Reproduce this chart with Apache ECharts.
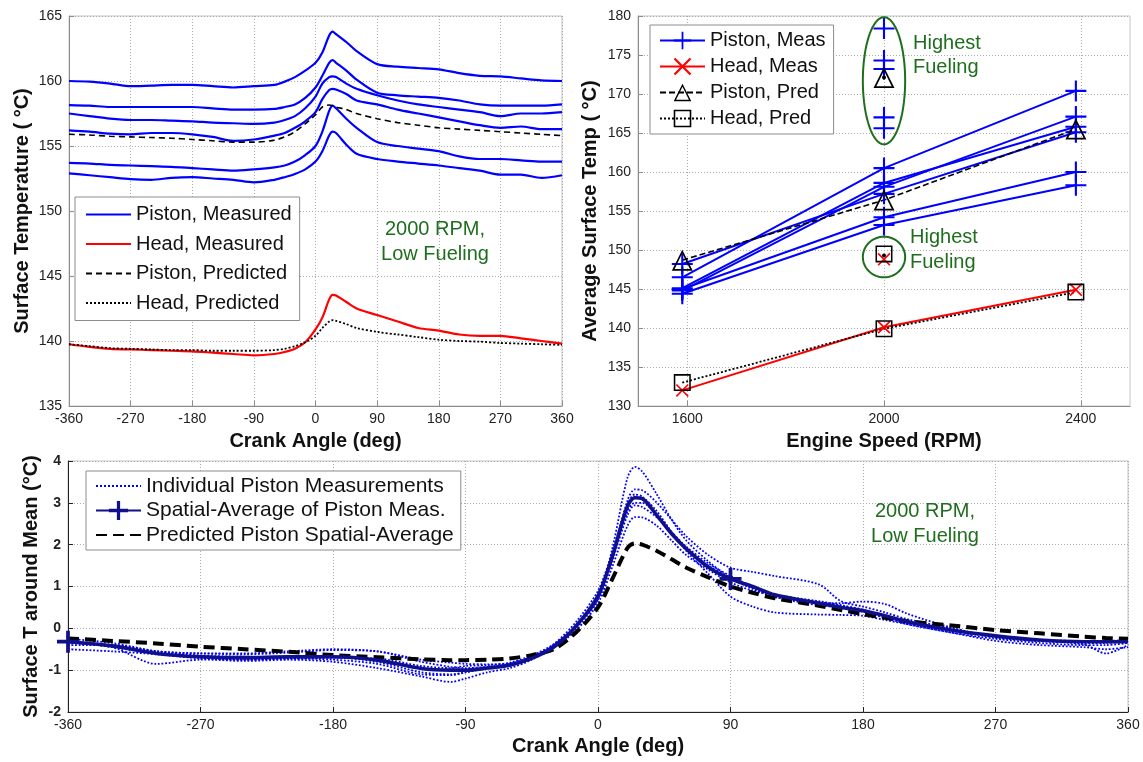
<!DOCTYPE html>
<html><head><meta charset="utf-8">
<script src="https://cdn.jsdelivr.net/npm/echarts@6/dist/echarts.min.js"></script>
<style>html,body{margin:0;padding:0;background:#fff}#c{width:1143px;height:762px}</style>
</head><body><div id="c"></div>
<script>
// ---------- Top-left: temperature vs crank angle ----------
const angTL = [-360,-330,-300,-270,-240,-210,-180,-150,-120,-90,-60,-45,-30,-15,0,10,20,25,30,45,60,90,120,150,180,210,240,270,300,330,360];
const pistonMeas1 = [160.0,159.95,159.8,159.6,159.65,159.7,159.7,159.6,159.5,159.6,159.7,159.95,160.3,160.8,161.4,162.2,163.5,163.8,163.6,163.0,162.3,161.3,161.1,161.0,160.9,160.6,160.4,160.35,160.2,160.05,160.0];
const pistonMeas2 = [158.15,158.1,158.0,158.0,158.0,158.0,158.0,157.9,157.8,157.8,157.85,158.0,158.2,158.7,159.5,160.4,161.4,161.6,161.4,160.8,160.1,159.1,158.9,158.8,158.7,158.5,158.2,158.1,158.1,158.1,158.2];
const pistonMeas3 = [157.5,157.3,157.1,157.0,157.0,156.95,156.9,156.8,156.75,156.7,156.8,157.0,157.3,157.9,158.8,159.8,160.3,160.35,160.3,159.8,159.4,158.9,158.5,158.2,158.0,157.8,157.6,157.3,157.5,157.5,157.6];
const pistonMeas4 = [156.2,156.1,155.95,155.9,156.0,156.0,155.9,155.7,155.4,155.5,155.8,156.0,156.4,156.9,157.6,158.6,159.3,159.4,159.35,159.0,158.5,158.2,157.8,157.5,157.2,156.9,156.6,156.4,156.5,156.3,156.3];
const pistonMeas5 = [153.7,153.65,153.55,153.5,153.45,153.4,153.3,153.2,153.1,153.2,153.35,153.5,153.8,154.3,155.0,156.1,157.7,158.1,157.9,157.1,156.4,155.3,155.0,154.8,154.6,154.2,154.0,154.0,153.9,153.8,153.8];
const pistonMeas6 = [152.9,152.75,152.6,152.45,152.4,152.55,152.6,152.5,152.4,152.2,152.4,152.6,152.85,153.2,153.8,154.6,155.8,156.1,156.0,155.1,154.4,154.0,153.8,153.65,153.5,153.3,153.1,152.8,152.8,152.55,152.75];
const pistonPredTL = [155.9,155.85,155.75,155.7,155.65,155.6,155.5,155.4,155.3,155.3,155.45,155.7,156.1,156.7,157.4,158.0,158.15,158.1,158.0,157.8,157.5,157.1,156.8,156.6,156.4,156.3,156.2,156.1,156.0,155.9,155.8];
const headMeasTL = [139.75,139.55,139.4,139.35,139.3,139.25,139.2,139.1,139.0,138.9,139.0,139.15,139.4,139.9,140.9,141.8,143.2,143.55,143.5,143.0,142.5,142.0,141.5,141.0,140.8,140.5,140.4,140.4,140.2,140.0,139.8];
const headPredTL = [139.75,139.6,139.45,139.4,139.35,139.3,139.3,139.25,139.25,139.25,139.3,139.4,139.6,139.9,140.4,141.0,141.5,141.6,141.55,141.3,141.0,140.7,140.5,140.3,140.1,140.0,139.95,139.85,139.8,139.75,139.7];

// ---------- Top-right: average temp vs engine speed ----------
const rpm = [1590, 2000, 2390];
const rpmTicks = [1600, 2000, 2400];
const pistonMeasAvg = [
  [146.5, 160.5, 170.4],
  [145.1, 158.6, 165.8],
  [144.8, 158.1, 167.1],
  [148.2, 157.2, 165.1],
  [145.0, 154.2, 160.0],
  [144.4, 153.2, 158.3]
];
const pistonPredAvg = [148.7, 156.4, 165.5];
const headMeasAvg = [132.0, 140.1, 144.9];
const headPredAvg = [133.0, 139.9, 144.6];
const hfRpm = 2000;
const hfPistonMeas = [178.4, 174.3, 173.2, 167.0, 165.6];
const hfPistonPred = [172.1];
const hfHeadMeas = [148.8];
const hfHeadPred = [149.5];
const hfDots = [172.1, 149.3];
// annotation ellipses (data centre, half-extent in data units)
const hfEllipses = [
  {rpm: 2000, temp: 171.7, halfRpm: 43, halfTemp: 8.15},
  {rpm: 2000, temp: 149.1, halfRpm: 43, halfTemp: 2.6}
];

// ---------- Bottom: deviation around mean ----------
const angB = [-360,-330,-300,-270,-240,-210,-180,-150,-120,-100,-90,-75,-60,-45,-30,-15,0,10,20,25,30,40,50,60,75,90,105,120,150,165,180,195,210,240,270,300,330,345,360];
const indiv1 = [-0.5,-0.55,-0.62,-0.72,-0.78,-0.75,-0.8,-0.95,-1.15,-1.28,-1.2,-1.05,-0.95,-0.75,-0.4,0.05,0.7,1.95,3.6,3.86,3.75,3.2,2.6,2.1,1.6,1.2,0.95,0.75,0.55,0.5,0.4,0.25,0.1,-0.1,-0.3,-0.4,-0.45,-0.5,-0.45];
const indiv2 = [-0.3,-0.4,-0.55,-0.6,-0.62,-0.58,-0.52,-0.55,-0.8,-0.92,-0.95,-0.92,-0.85,-0.68,-0.42,0.0,0.7,1.8,3.05,3.32,3.3,3.0,2.6,2.2,1.75,1.45,1.35,1.25,1.05,0.65,0.52,0.38,0.22,0.0,-0.2,-0.28,-0.3,-0.3,-0.3];
const indiv3 = [-0.25,-0.35,-0.55,-0.65,-0.68,-0.7,-0.7,-0.8,-1.05,-1.1,-1.05,-0.95,-0.85,-0.68,-0.4,0.05,0.75,1.7,2.8,3.0,3.0,2.7,2.3,1.9,1.5,1.2,0.95,0.75,0.6,0.55,0.45,0.3,0.15,-0.05,-0.2,-0.3,-0.3,-0.3,-0.28];
const indiv4 = [-0.35,-0.45,-0.85,-0.75,-0.75,-0.72,-0.7,-0.72,-0.9,-0.95,-0.9,-0.88,-0.82,-0.65,-0.38,0.05,0.7,1.65,2.7,2.94,2.9,2.65,2.3,1.95,1.55,1.25,1.0,0.8,0.62,0.6,0.64,0.58,0.35,0.02,-0.22,-0.3,-0.35,-0.35,-0.3];
const indiv5 = [-0.4,-0.4,-0.55,-0.6,-0.6,-0.55,-0.5,-0.55,-0.75,-0.82,-0.85,-0.86,-0.85,-0.72,-0.45,-0.05,0.6,1.5,2.45,2.66,2.65,2.45,2.1,1.75,1.4,1.1,0.9,0.8,0.65,0.55,0.4,0.3,0.15,-0.05,-0.2,-0.3,-0.38,-0.6,-0.4];
const indiv6 = [-0.3,-0.45,-0.6,-0.7,-0.75,-0.72,-0.75,-0.85,-1.1,-1.12,-1.05,-0.95,-0.88,-0.7,-0.38,0.15,0.9,1.85,2.95,3.2,3.15,2.8,2.3,1.85,1.3,0.76,0.52,0.38,0.33,0.32,0.3,0.2,0.1,-0.1,-0.25,-0.35,-0.4,-0.4,-0.35];
const spatialAvg = [-0.32,-0.42,-0.6,-0.68,-0.7,-0.68,-0.68,-0.76,-0.96,-1.0,-1.0,-0.95,-0.88,-0.72,-0.45,0.05,0.78,1.75,2.92,3.12,3.1,2.7,2.26,1.9,1.46,1.18,1.0,0.8,0.6,0.5,0.42,0.3,0.16,-0.04,-0.18,-0.28,-0.32,-0.32,-0.32];
const predAvg = [-0.24,-0.3,-0.36,-0.44,-0.5,-0.56,-0.64,-0.69,-0.74,-0.76,-0.76,-0.75,-0.72,-0.64,-0.5,-0.1,0.5,1.2,1.92,2.03,2.0,1.85,1.65,1.45,1.22,1.0,0.85,0.72,0.54,0.44,0.34,0.25,0.17,0.07,-0.04,-0.12,-0.2,-0.23,-0.25];
const avgMarkerAngles = [-360, 90];

// ---------- styling ----------
const FONT = "'Liberation Sans', Arial, Helvetica, sans-serif";
const GREEN = '#1e6e1e';
const BLUE = '#0000ff', RED = '#ff0000', NAVY = '#10108a';
const PLUS = 'path://M9,0H11V9H20V11H11V20H9V11H0V9H9Z';
const PLUS_THICK = 'path://M8.3,0H11.7V8.3H20V11.7H11.7V20H8.3V11.7H0V8.3H8.3Z';
const XMARK = 'path://M0,1.8L1.8,0L10,8.2L18.2,0L20,1.8L11.8,10L20,18.2L18.2,20L10,11.8L1.8,20L0,18.2L8.2,10Z';
const TRI = 'path://M10,0L20,18L0,18ZM10,3.2L2.7,16.5L17.3,16.5Z';
const SQR = 'path://M0,0H20V20H0ZM1.8,1.8V18.2H18.2V1.8Z';

const zip = (xs, ys) => xs.map((x, i) => [x, ys[i]]);

function axis(gridIndex, o) {
  return {
    gridIndex, type: 'value', min: o.min, max: o.max, interval: o.interval,
    name: o.name, nameLocation: 'middle', nameGap: o.nameGap, nameMoveOverlap: false,
    nameTextStyle: {fontSize: 20, fontWeight: 'bold', color: '#111', fontFamily: FONT},
    axisLine: {show: true, onZero: false, lineStyle: {color: o.lineColor || '#8c8c8c', width: 1}},
    axisTick: {show: true, inside: true, length: 5, lineStyle: {color: o.lineColor || '#8c8c8c'}, customValues: o.custom},
    axisLabel: {color: '#222', fontSize: 14, fontFamily: FONT, margin: o.margin || 7,
      fontWeight: o.bold ? 'bold' : 'normal', showMinLabel: true, showMaxLabel: true, customValues: o.custom,
      formatter: v => String(v)},
    splitLine: {show: true, lineStyle: {color: '#ababab', type: [1, 2], width: 1}}
  };
}

const grids = [
  {left: 69, top: 16, width: 493, height: 390},
  {left: 638, top: 16, width: 492, height: 390},
  {left: 68, top: 461, width: 1060, height: 251}
].map(g => Object.assign(g, {show: true, borderColor: '#c4c4c4', borderWidth: 1, backgroundColor: '#fff', outerBoundsMode: 'none', containLabel: false}));

const series = [];
function line(name, xi, data, color, width, type, extra) {
  series.push(Object.assign({
    type: 'line', name, xAxisIndex: xi, yAxisIndex: xi, data, symbol: 'none', smooth: 0.3,
    lineStyle: {color, width, type: type || 'solid'}, itemStyle: {color}, animation: false, silent: true
  }, extra || {}));
}
// top-left
[pistonMeas1, pistonMeas2, pistonMeas3, pistonMeas4, pistonMeas5, pistonMeas6].forEach(a => line('Piston, Measured', 0, zip(angTL, a), BLUE, 2.2));
line('Head, Measured', 0, zip(angTL, headMeasTL), RED, 2.2);
line('Piston, Predicted', 0, zip(angTL, pistonPredTL), '#000', 1.6, [6, 4]);
line('Head, Predicted', 0, zip(angTL, headPredTL), '#000', 1.8, [2, 2]);

// top-right
const sym = (s, size) => ({symbol: s, symbolSize: size, showSymbol: true, smooth: false});
pistonMeasAvg.forEach(a => line('Piston, Meas', 1, zip(rpm, a), BLUE, 2, 'solid', sym(PLUS, 21)));
line('Head, Meas', 1, zip(rpm, headMeasAvg), RED, 2, 'solid', sym(XMARK, 13));
line('Piston, Pred', 1, zip(rpm, pistonPredAvg), '#000', 1.6, [6, 3], sym(TRI, 21));
line('Head, Pred', 1, zip(rpm, headPredAvg), '#000', 1.8, [2, 2], sym(SQR, 17));
function scat(name, vals, s, size, color) {
  series.push({type: 'scatter', name, xAxisIndex: 1, yAxisIndex: 1, data: vals.map(v => [hfRpm, v]),
    symbol: s, symbolSize: size, itemStyle: {color, opacity: 1}, animation: false, silent: true, z: 3});
}
scat('Piston, Meas', hfPistonMeas, PLUS, 21, BLUE);
scat('Head, Meas', hfHeadMeas, XMARK, 13, RED);
scat('Piston, Pred', hfPistonPred, TRI, 21, '#000');
scat('Head, Pred', hfHeadPred, SQR, 17, '#000');
scat('hfDot', hfDots, 'circle', 4, '#000');

// bottom
[indiv1, indiv2, indiv3, indiv4, indiv5, indiv6].forEach(a => line('Individual Piston Measurements', 2, zip(angB, a), BLUE, 1.8, 'dotted'));
line('Predicted Piston Spatial-Average', 2, zip(angB, predAvg), '#000', 4, [11, 6]);
line('Spatial-Average of Piston Meas.', 2,
  angB.map((a, i) => avgMarkerAngles.includes(a) ? {value: [a, spatialAvg[i]]} : {value: [a, spatialAvg[i]], symbol: 'none'}),
  NAVY, 3.6, 'solid', {symbol: PLUS_THICK, symbolSize: 22, showSymbol: true, z: 4});

const legendBase = {orient: 'vertical', itemWidth: 45, backgroundColor: '#fff', borderColor: '#8c8c8c', borderWidth: 1, borderRadius: 0, selectedMode: false, z: 20};
const option = {
  backgroundColor: '#fff',
  animation: false,
  grid: grids,
  xAxis: [
    axis(0, {min: -360, max: 360, interval: 90, name: 'Crank Angle (deg)', nameGap: 25, margin: 6}),
    axis(1, {min: 1500, max: 2500, name: 'Engine Speed (RPM)', nameGap: 25, margin: 6, custom: rpmTicks}),
    axis(2, {min: -360, max: 360, interval: 90, name: 'Crank Angle (deg)', nameGap: 24, margin: 6, lineColor: '#222'})
  ],
  yAxis: [
    axis(0, {min: 135, max: 165, interval: 5, name: 'Surface Temperature ( °C)', nameGap: 37}),
    axis(1, {min: 130, max: 180, interval: 5, name: 'Average Surface Temp ( °C)', nameGap: 38}),
    axis(2, {min: -2, max: 4, interval: 1, name: 'Surface T around Mean (°C)', nameGap: 27, bold: true, lineColor: '#222'})
  ],
  legend: [
    Object.assign({}, legendBase, {data: ['Piston, Measured', 'Head, Measured', 'Piston, Predicted', 'Head, Predicted'],
      left: 75, top: 197, itemHeight: 18, itemGap: 9.5, padding: [7.5, 8, 7.5, 10],
      itemStyle: {opacity: 0}, textStyle: {fontSize: 20, color: '#111', fontFamily: FONT}}),
    Object.assign({}, legendBase, {data: ['Piston, Meas', 'Head, Meas', 'Piston, Pred', 'Head, Pred'],
      left: 650, top: 25, itemHeight: 22, itemGap: 6, padding: [5.5, 8, 5.5, 9],
      textStyle: {fontSize: 20, color: '#111', fontFamily: FONT}}),
    Object.assign({}, legendBase, {data: [
        {name: 'Individual Piston Measurements', itemStyle: {opacity: 0}},
        {name: 'Spatial-Average of Piston Meas.'},
        {name: 'Predicted Piston Spatial-Average', itemStyle: {opacity: 0}}],
      left: 86, top: 471, itemHeight: 24, itemGap: 3.5, padding: [4.5, 7, 4.5, 9],
      textStyle: {fontSize: 21, color: '#111', fontFamily: FONT}})
  ],
  series
};

const chart = echarts.init(document.getElementById('c'), null, {renderer: 'canvas'});
chart.setOption(option);

const textStyle = (t, align) => ({text: t, fill: GREEN, font: '20px ' + FONT, textAlign: align, textVerticalAlign: 'top', lineHeight: 25});
const graphics = [
  {type: 'text', x: 435, y: 217, z: 30, style: textStyle('2000 RPM,\nLow Fueling', 'center')},
  {type: 'text', x: 925, y: 499, z: 30, style: textStyle('2000 RPM,\nLow Fueling', 'center')},
  {type: 'text', x: 913, y: 31, z: 30, style: Object.assign(textStyle('Highest\nFueling', 'left'), {lineHeight: 24})},
  {type: 'text', x: 910, y: 225, z: 30, style: textStyle('Highest\nFueling', 'left')}
];
hfEllipses.forEach(e => {
  const c = chart.convertToPixel({gridIndex: 1}, [e.rpm, e.temp]);
  const q = chart.convertToPixel({gridIndex: 1}, [e.rpm + e.halfRpm, e.temp + e.halfTemp]);
  const rx = q[0] - c[0], ry = c[1] - q[1];
  const pts = [];
  for (let k = 0; k <= 90; k++) {
    const t = k / 90 * Math.PI * 2;
    pts.push([c[0] + rx * Math.cos(t), c[1] + ry * Math.sin(t)]);
  }
  graphics.push({type: 'polyline', z: 30, silent: true, shape: {points: pts}, style: {stroke: GREEN, lineWidth: 2, fill: null}});
});
chart.setOption({graphic: graphics});
</script></body></html>
